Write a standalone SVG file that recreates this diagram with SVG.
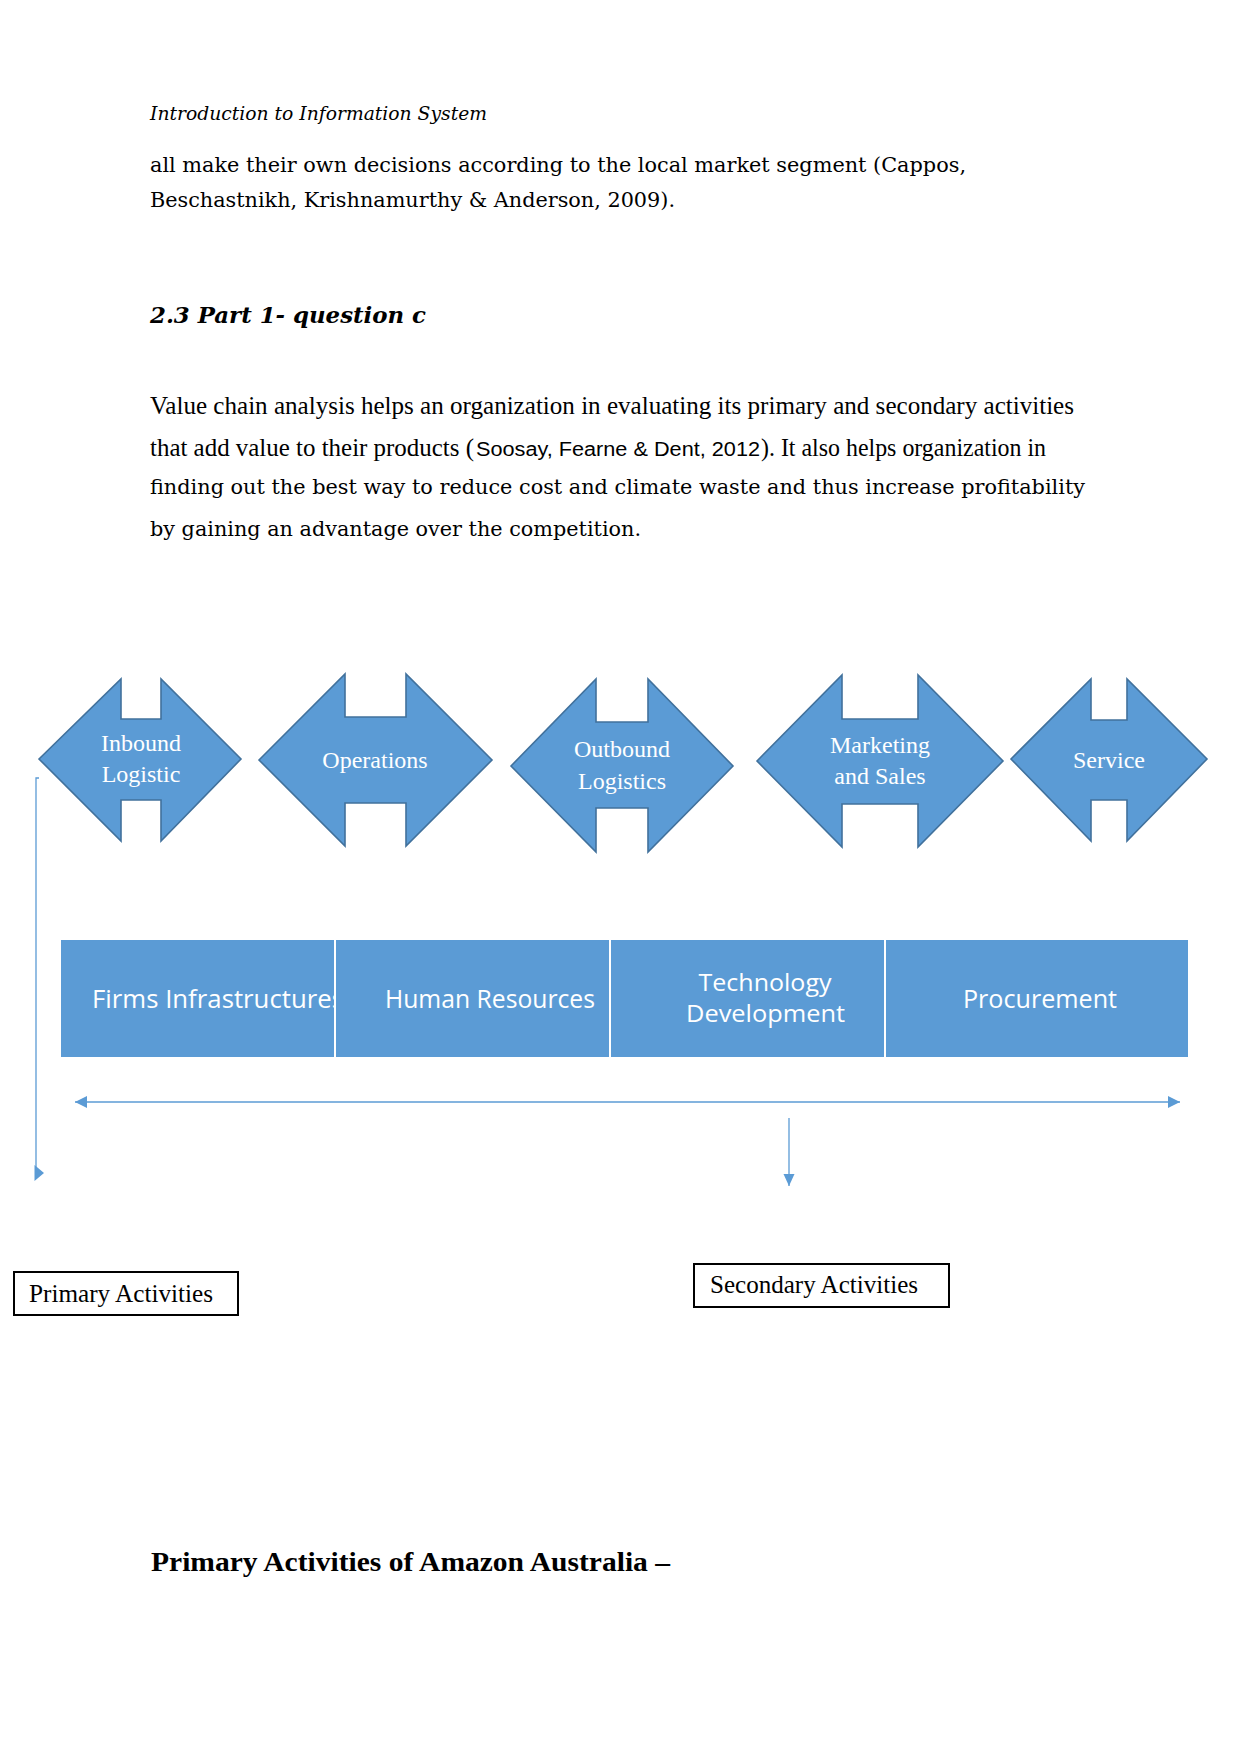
<svg xmlns="http://www.w3.org/2000/svg" width="1241" height="1754" viewBox="0 0 1241 1754">
<style>
.dv{font-family:"DejaVu Serif",serif;fill:#000}
.tm{font-family:"Liberation Serif",serif;fill:#000}
.ar{font-family:"Liberation Sans",sans-serif;fill:#000}
.shape{fill:#5B9BD5;stroke:#41719C;stroke-width:1.6;stroke-linejoin:miter}
.stxt{font-family:"Liberation Serif",serif;font-size:24px;fill:#fff;text-anchor:middle}
.bar{fill:#5B9BD5;stroke:#fff;stroke-width:2}
.btxt{font-family:"Open Sans","Noto Sans",sans-serif;font-size:25.5px;fill:#fff}
.btxt2{font-family:"Open Sans","Noto Sans",sans-serif;font-size:23.5px;fill:#fff}
.conn{fill:none;stroke:#5B9BD5;stroke-width:1.3}
.lbl{fill:#fff;stroke:#000;stroke-width:2}
</style>
<defs>
<marker id="ah" markerUnits="userSpaceOnUse" markerWidth="12" markerHeight="12" refX="12" refY="6" orient="auto-start-reverse">
<path d="M0,0 L12,6 L0,12 z" fill="#5B9BD5"/>
</marker>
<marker id="ahs" markerUnits="userSpaceOnUse" markerWidth="12" markerHeight="12" refX="12" refY="5.5" orient="auto">
<path d="M0,0 L12,5.5 L0,11 z" fill="#5B9BD5"/>
</marker>
</defs>
<rect width="1241" height="1754" fill="#fff"/>

<g id="text-top">
<text class="dv" x="150" y="120" font-size="18" font-style="italic" textLength="337" lengthAdjust="spacingAndGlyphs">Introduction to Information System</text>
<text class="dv" x="150" y="172" font-size="19.5" textLength="816" lengthAdjust="spacingAndGlyphs">all make their own decisions according to the local market segment (Cappos,</text>
<text class="dv" x="150" y="207" font-size="19.5" textLength="525" lengthAdjust="spacingAndGlyphs">Beschastnikh, Krishnamurthy &amp; Anderson, 2009).</text>
<text class="dv" x="150" y="323" font-size="23" font-weight="bold" font-style="italic" textLength="276" lengthAdjust="spacingAndGlyphs">2.3 Part 1- question c</text>
<text class="tm" x="150" y="414" font-size="25" textLength="924" lengthAdjust="spacingAndGlyphs">Value chain analysis helps an organization in evaluating its primary and secondary activities</text>
<text class="tm" x="150" y="456" font-size="25" textLength="324" lengthAdjust="spacingAndGlyphs">that add value to their products (</text>
<text class="ar" x="476" y="456" font-size="20" textLength="284" lengthAdjust="spacingAndGlyphs">Soosay, Fearne &amp; Dent, 2012</text>
<text class="tm" x="761" y="456" font-size="25" textLength="285" lengthAdjust="spacingAndGlyphs">). It also helps organization in</text>
<text class="dv" x="150" y="494" font-size="19.5" textLength="935" lengthAdjust="spacingAndGlyphs">finding out the best way to reduce cost and climate waste and thus increase profitability</text>
<text class="dv" x="150" y="536" font-size="19.5" textLength="491" lengthAdjust="spacingAndGlyphs">by gaining an advantage over the competition.</text>
</g>

<g id="inbound">
<path class="shape" d="M39,759 L121,679 L121,719 L161,719 L161,679 L241,759 L161,841 L161,800 L121,800 L121,841 Z"/>
<text class="stxt" x="141" y="751">Inbound</text>
<text class="stxt" x="141" y="782">Logistic</text>
</g>
<g id="operations">
<path class="shape" d="M259,760 L345,674 L345,717 L406,717 L406,674 L492,760 L406,846 L406,803 L345,803 L345,846 Z"/>
<text class="stxt" x="375" y="768">Operations</text>
</g>
<g id="outbound">
<path class="shape" d="M511,766 L596,679 L596,722 L648,722 L648,679 L733,766 L648,852 L648,808 L596,808 L596,852 Z"/>
<text class="stxt" x="622" y="757">Outbound</text>
<text class="stxt" x="622" y="789">Logistics</text>
</g>
<g id="marketing">
<path class="shape" d="M757,761 L842,675 L842,719 L918,719 L918,675 L1003,761 L918,847 L918,804 L842,804 L842,847 Z"/>
<text class="stxt" x="880" y="753">Marketing</text>
<text class="stxt" x="880" y="784">and Sales</text>
</g>
<g id="service">
<path class="shape" d="M1011,759 L1091,679 L1091,720 L1127,720 L1127,679 L1207,759 L1127,841 L1127,800 L1091,800 L1091,841 Z"/>
<text class="stxt" x="1109" y="768">Service</text>
</g>

<g id="firms">
<rect class="bar" x="60" y="939" width="275" height="119"/>
<text class="btxt" x="92" y="1008" textLength="252" lengthAdjust="spacingAndGlyphs">Firms Infrastructures</text>
</g>
<g id="human">
<rect class="bar" x="335" y="939" width="275" height="119"/>
<text class="btxt" x="490" y="1008" text-anchor="middle" textLength="210" lengthAdjust="spacingAndGlyphs">Human Resources</text>
</g>
<g id="technology">
<rect class="bar" x="610" y="939" width="275" height="119"/>
<text class="btxt2" x="765" y="991" text-anchor="middle" textLength="133" lengthAdjust="spacingAndGlyphs">Technology</text>
<text class="btxt2" x="765.5" y="1022" text-anchor="middle" textLength="159" lengthAdjust="spacingAndGlyphs">Development</text>
</g>
<g id="procurement">
<rect class="bar" x="885" y="939" width="304" height="119"/>
<text class="btxt" x="1040" y="1008" text-anchor="middle" textLength="154" lengthAdjust="spacingAndGlyphs">Procurement</text>
</g>

<g id="connectors">
<path class="conn" d="M39,778 H36 V1173"/>
<path d="M34.5,1165 L44,1173 L34.5,1181 Z" fill="#5B9BD5"/>
<line class="conn" x1="75" y1="1102" x2="1180" y2="1102" stroke-width="1.6" marker-start="url(#ah)" marker-end="url(#ah)"/>
<line class="conn" x1="789" y1="1118" x2="789" y2="1186" marker-end="url(#ahs)"/>
</g>

<g id="primary">
<rect class="lbl" x="14" y="1272" width="224" height="43"/>
<text class="tm" x="29" y="1302" font-size="25" textLength="184" lengthAdjust="spacingAndGlyphs">Primary Activities</text>
</g>
<g id="secondary">
<rect class="lbl" x="694" y="1264" width="255" height="43"/>
<text class="tm" x="710" y="1293" font-size="25" textLength="208" lengthAdjust="spacingAndGlyphs">Secondary Activities</text>
</g>

<g id="text-bottom">
<text class="tm" x="151" y="1571" font-size="27" font-weight="bold" textLength="519" lengthAdjust="spacingAndGlyphs">Primary Activities of Amazon Australia –</text>
</g>
</svg>
